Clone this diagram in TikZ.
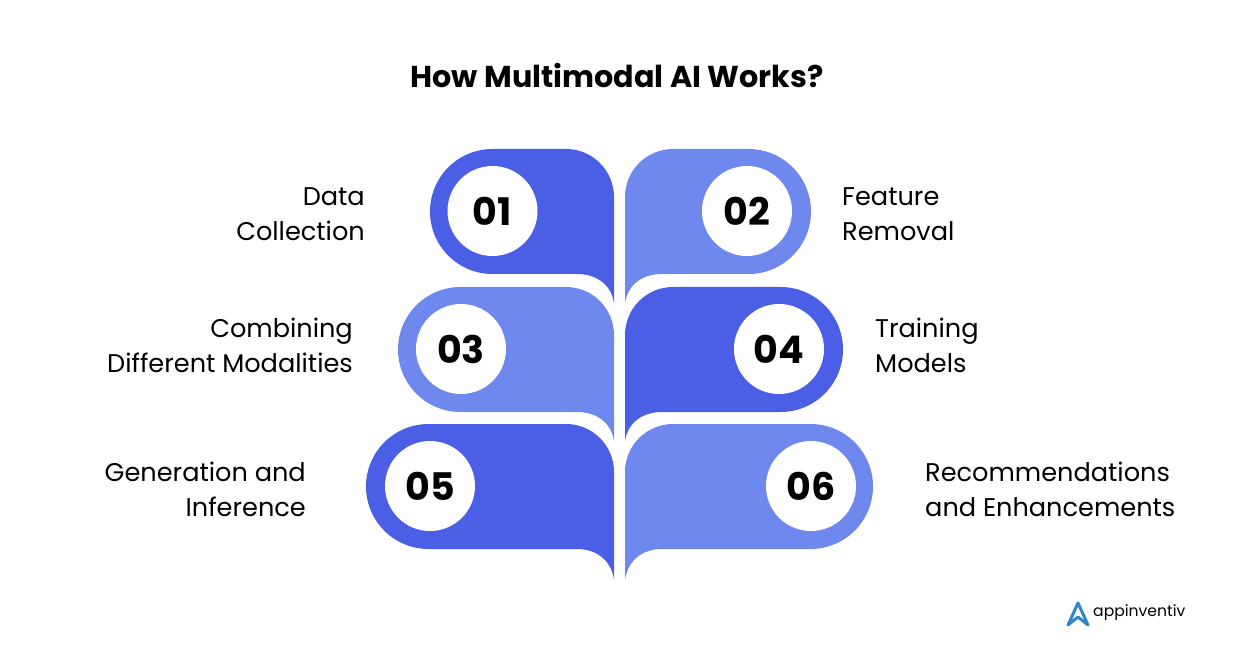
\documentclass[tikz,border=0pt]{standalone}
\usepackage{fontspec}
\setmainfont{Poppins}
\definecolor{darkblue}{HTML}{4B5FE6}
\definecolor{lightblue}{HTML}{6F88EE}
\definecolor{logoblue}{HTML}{2F86C8}
\tikzset{
  numdisc/.style={circle, fill=white, minimum size=90pt, inner sep=0pt, font=\fontsize{38}{38}\selectfont\bfseries},
  lefttext/.style={align=right, anchor=east, inner sep=0pt, font=\fontsize{25.6}{35}\selectfont},
  righttext/.style={align=left, anchor=west, inner sep=0pt, font=\fontsize{25.6}{35}\selectfont}
}
\begin{document}
\begin{tikzpicture}[x=1pt, y=-1pt]
\useasboundingbox (0,0) rectangle (1235,647);

\node (title) at (617,76) {\fontsize{30.2}{30}\selectfont\bfseries How Multimodal AI Works?};

% left column
\fill [darkblue] (492.5,149) -- (566,149) arc (-90:0:48) -- (614,303) .. controls (612,288) and (600,274) .. (577,274) -- (492.5,274) arc (90:270:62.5) -- cycle;
\fill [lightblue] (460.5,287) -- (566,287) arc (-90:0:48) -- (614,441) .. controls (612,426) and (600,412) .. (577,412) -- (460.5,412) arc (90:270:62.5) -- cycle;
\fill [darkblue] (428.5,424) -- (566,424) arc (-90:0:48) -- (614,580) .. controls (612,564) and (600,549) .. (577,549) -- (428.5,549) arc (90:270:62.5) -- cycle;

% right column
\fill [lightblue] (748.5,149) -- (673,149) arc (-90:-180:48) -- (625,303) .. controls (627,288) and (639,274) .. (662,274) -- (748.5,274) arc (90:-90:62.5) -- cycle;
\fill [darkblue] (780.5,287) -- (673,287) arc (-90:-180:48) -- (625,441) .. controls (627,426) and (639,412) .. (662,412) -- (780.5,412) arc (90:-90:62.5) -- cycle;
\fill [lightblue] (810.5,424) -- (673,424) arc (-90:-180:48) -- (625,580) .. controls (627,564) and (639,549) .. (662,549) -- (810.5,549) arc (90:-90:62.5) -- cycle;

\node [numdisc] (n1) at (492.5,211) {01};
\node [numdisc] (n2) at (747,211) {02};
\node [numdisc] (n3) at (461,349) {03};
\node [numdisc] (n4) at (779,349) {04};
\node [numdisc] (n5) at (430,486) {05};
\node [numdisc] (n6) at (811,486) {06};

\node [lefttext] (l1) at (365,214) {Data\\Collection};
\node [righttext] (l2) at (842,214) {Feature\\Removal};
\node [lefttext] (l3) at (353,345) {Combining\\Different Modalities};
\node [righttext] (l4) at (875,345) {Training\\Models};
\node [lefttext] (l5) at (306,489) {Generation and\\Inference};
\node [righttext] (l6) at (925,489) {Recommendations\\and Enhancements};

% logo
\draw [logoblue, line width=3pt, line join=round, line cap=round] (1068,625) -- (1078,603) -- (1088,625) -- (1078,617) -- cycle;
\node [anchor=west, inner sep=0pt] (logo) at (1093,613) {\fontsize{15.6}{16}\selectfont appinventiv};
\end{tikzpicture}
\end{document}
